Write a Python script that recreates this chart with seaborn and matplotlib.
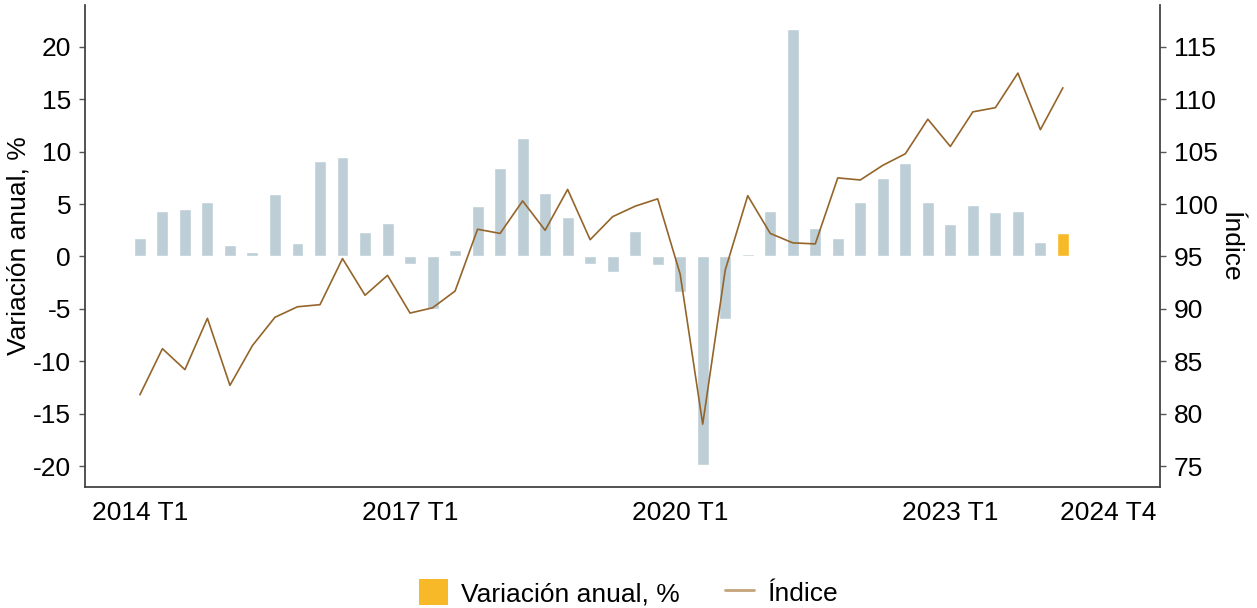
import matplotlib
matplotlib.use('Agg')
import numpy as np
import pandas as pd
import seaborn as sns
import matplotlib.pyplot as plt
from matplotlib.patches import Patch
from matplotlib.lines import Line2D

# quarterly data, 2014 T1 .. 2024 T2
quarters = [f'{y} T{q}' for y in range(2014, 2025) for q in range(1, 5)][:42]

variacion = [1.8, 4.3, 4.5, 5.2, 1.1, 0.4, 6.0, 1.3, 9.1, 9.5, 2.3, 3.2,
             -0.7, -5.0, 0.6, 4.8, 8.4, 11.3, 6.1, 3.8, -0.7, -1.5, 2.4, -0.8,
             -3.4, -19.9, -6.0, 0.2, 4.3, 21.7, 2.7, 1.8, 5.2, 7.5, 8.9, 5.2,
             3.1, 4.9, 4.2, 4.3, 1.4, 2.2]

indice = [81.8, 86.2, 84.2, 89.1, 82.7, 86.5, 89.2, 90.2, 90.4, 94.8, 91.3, 93.2,
          89.6, 90.1, 91.7, 97.6, 97.2, 100.3, 97.5, 101.4, 96.6, 98.8, 99.8, 100.5,
          93.3, 79.0, 93.7, 100.8, 97.2, 96.3, 96.2, 102.5, 102.3, 103.7, 104.8, 108.1,
          105.5, 108.8, 109.2, 112.5, 107.1, 111.1]

tick_pos = [0, 12, 24, 36, 43]
tick_labels = ['2014 T1', '2017 T1', '2020 T1', '2023 T1', '2024 T4']

bar_grey = '#bdced6'
bar_orange = '#f8b928'
line_brown = '#94652a'

df = pd.DataFrame({'trimestre': quarters, 'variacion': variacion, 'indice': indice})
df['pos'] = np.arange(len(df))
df['grupo'] = ['base'] * (len(df) - 1) + ['ultimo']

sns.set_style('white')
plt.rcParams['font.family'] = ['Liberation Sans', 'DejaVu Sans']
plt.rcParams['axes.unicode_minus'] = False
plt.rcParams['text.color'] = 'black'
plt.rcParams['axes.labelcolor'] = 'black'
plt.rcParams['xtick.color'] = 'black'
plt.rcParams['ytick.color'] = 'black'

fs = 19

fig = plt.figure(figsize=(12.57, 6.08), dpi=100)
ax = fig.add_axes([0.0676, 0.199, 0.855, 0.7928])

sns.barplot(data=df, x='trimestre', y='variacion', hue='grupo',
            palette={'base': bar_grey, 'ultimo': bar_orange}, saturation=1,
            dodge=False, width=0.53, legend=False, ax=ax)

ax2 = ax.twinx()
sns.lineplot(data=df, x='pos', y='indice', color=line_brown, linewidth=1.2, ax=ax2)

ax.set_xlim(-2.44, 45.3)
ax.set_ylim(-22, 24)
ax2.set_ylim(73, 119)
ax.set_yticks(range(-20, 21, 5))
ax2.set_yticks(range(75, 116, 5))
ax.set_xticks(tick_pos)
ax.set_xticklabels(tick_labels)

ax.set_xlabel('')
ax.set_ylabel('Variación anual, %', fontsize=fs, labelpad=2)
ax2.set_xlabel('')
ax2.set_ylabel('Índice', fontsize=fs, rotation=270, labelpad=18)

for a in (ax, ax2):
    a.tick_params(labelsize=fs, length=4, width=1, color='#555555', pad=6)
    for s in a.spines.values():
        s.set_color('#444444')
        s.set_linewidth(1.3)
    a.spines['top'].set_visible(False)
    a.grid(False)
ax.spines['right'].set_visible(False)
ax2.spines['left'].set_visible(False)
ax2.spines['bottom'].set_visible(False)

handles = [Patch(facecolor=bar_orange, edgecolor='none'),
           Line2D([0], [0], color='#c4a27a', linewidth=2)]
fig.legend(handles, ['Variación anual, %', 'Índice'], loc='lower center',
           bbox_to_anchor=(0.5, -0.036), ncol=2, frameon=False, fontsize=fs,
           handlelength=1.1, handleheight=1.1, handletextpad=0.5, columnspacing=1.7)

fig.savefig('out.png', dpi=100)
